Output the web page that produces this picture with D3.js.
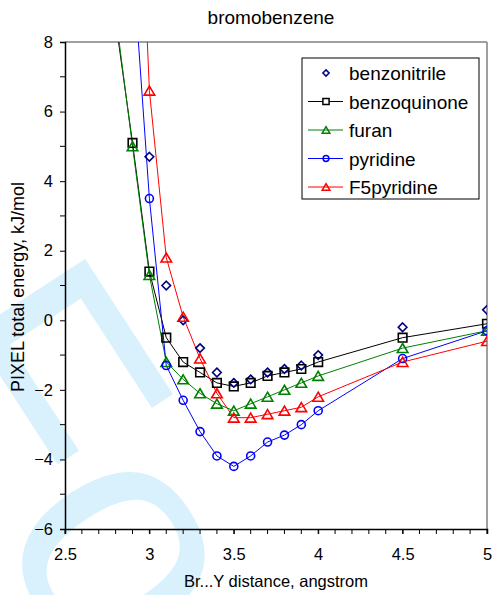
<!DOCTYPE html>
<html><head><meta charset="utf-8">
<script src="https://cdn.jsdelivr.net/npm/d3@7"></script>
<style>body{margin:0;background:#fff}svg{display:block;font-family:"Liberation Sans",Arial,sans-serif}</style>
</head><body><svg id="c" width="493" height="595"></svg>
<script>
const distances = [2.8, 2.9, 3.0, 3.1, 3.2, 3.3, 3.4, 3.5, 3.6, 3.7, 3.8, 3.9, 4.0, 4.5, 5.0];
const benzonitrile = [null, null, 4.7, 1.0, 0.0, -0.8, -1.5, -1.8, -1.7, -1.5, -1.4, -1.3, -1.0, -0.2, 0.3];
const benzoquinone = [8.6, 5.1, 1.4, -0.5, -1.2, -1.5, -1.8, -1.9, -1.8, -1.6, -1.5, -1.4, -1.2, -0.5, -0.1];
const furan = [8.8, 5.0, 1.3, -1.2, -1.7, -2.1, -2.4, -2.6, -2.4, -2.2, -2.0, -1.8, -1.6, -0.8, -0.3];
const pyridine = [null, 10.4, 3.5, -1.3, -2.3, -3.2, -3.9, -4.2, -3.9, -3.5, -3.3, -3.0, -2.6, -1.1, -0.3];
const f5pyridine = [null, 18.0, 6.6, 1.8, 0.1, -1.1, -2.1, -2.8, -2.8, -2.7, -2.6, -2.5, -2.2, -1.2, -0.6];
const xTicks = [2.5, 3, 3.5, 4, 4.5, 5];
const yTicks = [-6, -4, -2, 0, 2, 4, 6, 8];
const seriesNames = ["benzonitrile", "benzoquinone", "furan", "pyridine", "F5pyridine"];

const series = [
  {name: seriesNames[0], values: benzonitrile, color: "#000080", marker: "diamond", line: false},
  {name: seriesNames[1], values: benzoquinone, color: "#000000", marker: "square", line: true},
  {name: seriesNames[2], values: furan, color: "#008000", marker: "triangle", line: true},
  {name: seriesNames[3], values: pyridine, color: "#0000ff", marker: "circle", line: true},
  {name: seriesNames[4], values: f5pyridine, color: "#ff0000", marker: "triangle", line: true}
];

const FONT = "'Liberation Sans',Arial,sans-serif";
const svg = d3.select("#c");
const L = 65, R = 487, T = 42, B = 529;
const x = d3.scaleLinear().domain([2.5, 5]).range([L, R]);
const y = d3.scaleLinear().domain([-6, 8]).range([B, T]);

// watermark
svg.append("text").attr("transform", "translate(-120,360) rotate(57)")
  .attr("font-size", 330).attr("font-weight", "normal").attr("fill", "#d8f1fc")
  .attr("font-family", FONT).text("For Peer Review");

svg.append("defs").append("clipPath").attr("id", "clip")
  .append("rect").attr("x", L).attr("y", T).attr("width", R - L).attr("height", B - T);

// frame top/right
svg.append("line").attr("x1", L).attr("x2", R).attr("y1", T).attr("y2", T).attr("stroke", "#808080").attr("stroke-width", 1.5);
svg.append("line").attr("x1", R).attr("x2", R).attr("y1", T).attr("y2", B).attr("stroke", "#808080").attr("stroke-width", 1.5);

function markerPath(type, s) {
  if (type === "diamond") return `M0,${-4.3*s}L${4.3*s},0L0,${4.3*s}L${-4.3*s},0Z`;
  if (type === "square") return `M${-4.3*s},${-4.3*s}h${8.6*s}v${8.6*s}h${-8.6*s}Z`;
  if (type === "triangle") return `M0,${-4.6*s}L${5.3*s},${4.4*s}L${-5.3*s},${4.4*s}Z`;
  const r = 4 * s;
  return `M${r},0A${r},${r},0,1,1,${-r},0A${r},${r},0,1,1,${r},0Z`;
}

const g = svg.append("g").attr("clip-path", "url(#clip)");
series.forEach(s => {
  const pts = distances.map((d, i) => [d, s.values[i]]).filter(p => p[1] !== null);
  if (s.line) {
    g.append("path").datum(pts).attr("fill", "none").attr("stroke", s.color).attr("stroke-width", 1)
      .attr("d", d3.line().x(p => x(p[0])).y(p => y(p[1])));
  }
});
series.forEach(s => {
  const pts = distances.map((d, i) => [d, s.values[i]]).filter(p => p[1] !== null);
  g.selectAll(null).data(pts).enter().append("path")
    .attr("transform", p => `translate(${x(p[0])},${y(p[1])})`)
    .attr("d", markerPath(s.marker, 1)).attr("fill", "none").attr("stroke", s.color).attr("stroke-width", 1.6);
});

// axes
const xAxis = d3.axisBottom(x).tickValues(xTicks).tickFormat(d3.format("")).tickSize(5);
const xg = svg.append("g").attr("transform", `translate(0,${B})`).call(xAxis);
xg.selectAll(".minor").data(d3.range(2.5, 5.0001, 0.1)).enter().append("line").attr("class", "minor")
  .attr("x1", d => x(d)).attr("x2", d => x(d)).attr("y1", 0).attr("y2", 5).attr("stroke", "#000");
const yAxis = d3.axisLeft(y).tickValues(yTicks).tickFormat(d3.format("")).tickSize(5).tickPadding(7);
const yg = svg.append("g").attr("transform", `translate(${L},0)`).call(yAxis);
yg.selectAll(".minor").data(d3.range(-5, 8, 2)).enter().append("line").attr("class", "minor")
  .attr("x1", -5).attr("x2", 0).attr("y1", d => y(d)).attr("y2", d => y(d)).attr("stroke", "#000");
[xg, yg].forEach(a => {
  a.select(".domain").attr("stroke", "#000").attr("stroke-width", 1.5);
  a.selectAll(".tick line").attr("stroke", "#000");
  a.selectAll("text").attr("font-size", 16.5).attr("fill", "#000").attr("font-family", FONT);
});
xg.selectAll(".tick text").attr("y", 31).attr("dy", 0);

// titles
svg.append("text").attr("x", 271).attr("y", 24).attr("text-anchor", "middle").attr("font-size", 19).attr("font-family", FONT).text("bromobenzene");
svg.append("text").attr("x", 276).attr("y", 587).attr("text-anchor", "middle").attr("font-size", 16.5).attr("font-family", FONT).text("Br...Y distance, angstrom");
svg.append("text").attr("transform", "translate(24,287) rotate(-90)").attr("text-anchor", "middle").attr("font-size", 18).attr("font-family", FONT).text("PIXEL total energy, kJ/mol");

// legend
const lg = svg.append("g");
lg.append("rect").attr("x", 302).attr("y", 58).attr("width", 177).attr("height", 141)
  .attr("fill", "#fff").attr("stroke", "#000").attr("stroke-width", 1);
series.forEach((s, i) => {
  const yy = 73 + i * 28.5;
  if (s.line) lg.append("line").attr("x1", 308).attr("x2", 343).attr("y1", yy).attr("y2", yy).attr("stroke", s.color).attr("stroke-width", 1);
  lg.append("path").attr("transform", `translate(326,${yy})`)
    .attr("d", markerPath(s.marker, 0.72))
    .attr("fill", s.marker === "square" ? "#fff" : "none").attr("stroke", s.color).attr("stroke-width", 1.5);
  lg.append("text").attr("x", 349).attr("y", yy + 7).attr("font-size", 19).attr("font-family", FONT).text(s.name);
});
</script></body></html>
